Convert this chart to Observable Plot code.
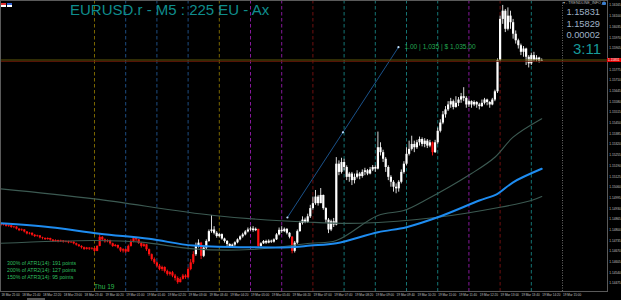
<!DOCTYPE html>
<html><head><meta charset="utf-8">
<script src="https://cdn.jsdelivr.net/npm/d3@7"></script>
<script src="https://cdn.jsdelivr.net/npm/@observablehq/plot@0.6"></script>
<style>
html,body{margin:0;padding:0;background:#000;}
#wrap{position:relative;width:621px;height:300px;overflow:hidden;background:#000;}
#wrap svg{display:block;}
.ov{position:absolute;white-space:nowrap;font-family:"Liberation Sans",Arial,sans-serif;line-height:1;}
</style></head><body><div id="wrap"></div>
<script>
// ---------- DATA ----------
const symbolTitle = "EURUSD.r - M5 : 225 EU - Ax";
const firstOpen = 1.14835;
const closeP = [
1.14828,1.14832,1.14822,1.14826,1.14815,1.14818,1.14805,1.14796,1.14800,1.14788,
1.14776,1.14780,1.14768,1.14760,1.14764,1.14752,1.14748,1.14742,1.14748,1.14738,
1.14730,1.14736,1.14728,1.14734,1.14726,1.14730,1.14722,1.14726,1.14716,1.14708,
1.14700,1.14692,1.14682,1.14690,1.14684,1.14688,1.14670,1.14700,1.14755,1.14740,
1.14728,1.14735,1.14716,1.14700,1.14706,1.14690,1.14672,1.14680,1.14666,1.14700,
1.14730,1.14748,1.14740,1.14718,1.14700,1.14710,1.14680,1.14650,1.14620,1.14600,
1.14580,1.14560,1.14572,1.14548,1.14530,1.14540,1.14520,1.14505,1.14480,1.14500,
1.14520,1.14510,1.14560,1.14600,1.14650,1.14700,1.14720,1.14640,1.14690,1.14730,
1.14790,1.14800,1.14780,1.14760,1.14772,1.14745,1.14730,1.14712,1.14700,1.14708,
1.14722,1.14740,1.14758,1.14770,1.14788,1.14800,1.14806,1.14796,1.14804,1.14700,
1.14716,1.14730,1.14720,1.14732,1.14726,1.14740,1.14770,1.14798,1.14790,1.14804,
1.14780,1.14756,1.14670,1.14720,1.14790,1.14840,1.14860,1.14846,1.14880,1.14930,
1.14960,1.15000,1.14960,1.15010,1.14930,1.14860,1.14800,1.14850,1.14830,1.15200,
1.15150,1.15210,1.15180,1.15120,1.15140,1.15100,1.15120,1.15140,1.15125,1.15150,
1.15160,1.15140,1.15165,1.15180,1.15170,1.15300,1.15270,1.15230,1.15180,1.15120,
1.15090,1.15060,1.15050,1.15090,1.15150,1.15200,1.15260,1.15290,1.15320,1.15300,
1.15330,1.15350,1.15320,1.15340,1.15310,1.15330,1.15270,1.15330,1.15400,1.15450,
1.15500,1.15530,1.15560,1.15580,1.15545,1.15570,1.15590,1.15610,1.15600,1.15560,
1.15580,1.15560,1.15575,1.15560,1.15550,1.15570,1.15590,1.15575,1.15560,1.15590,
1.15640,1.15830,1.16080,1.16130,1.16020,1.16100,1.16060,1.15990,1.15950,1.15920,
1.15880,1.15900,1.15850,1.15810,1.15860,1.15830,1.15845,1.15825,1.15831];
const highP = [
1.14840,1.14838,1.14834,1.14830,1.14828,1.14822,1.14820,1.14808,1.14806,1.14802,
1.14790,1.14784,1.14782,1.14772,1.14768,1.14766,1.14756,1.14752,1.14752,1.14750,
1.14742,1.14740,1.14738,1.14738,1.14736,1.14734,1.14732,1.14730,1.14728,1.14720,
1.14712,1.14704,1.14696,1.14694,1.14692,1.14692,1.14690,1.14704,1.14770,1.14760,
1.14745,1.14740,1.14738,1.14720,1.14712,1.14708,1.14694,1.14686,1.14684,1.14708,
1.14740,1.14758,1.14752,1.14742,1.14724,1.14716,1.14712,1.14684,1.14654,1.14630,
1.14606,1.14590,1.14580,1.14576,1.14556,1.14546,1.14548,1.14530,1.14515,1.14510,
1.14530,1.14528,1.14570,1.14620,1.14668,1.14720,1.14740,1.14725,1.14700,1.14740,
1.14800,1.14888,1.14820,1.14790,1.14780,1.14776,1.14750,1.14736,1.14716,1.14714,
1.14728,1.14746,1.14764,1.14780,1.14796,1.14812,1.14818,1.14820,1.14812,1.14804,
1.14722,1.14736,1.14738,1.14740,1.14738,1.14746,1.14778,1.14812,1.14820,1.14812,
1.14808,1.14784,1.14760,1.14730,1.14800,1.14852,1.14880,1.14872,1.14896,1.14950,
1.15000,1.15040,1.15010,1.15052,1.15012,1.14935,1.14870,1.14860,1.14870,1.15240,
1.15220,1.15236,1.15230,1.15190,1.15150,1.15150,1.15140,1.15160,1.15150,1.15165,
1.15175,1.15168,1.15180,1.15192,1.15190,1.15395,1.15330,1.15285,1.15240,1.15190,
1.15130,1.15100,1.15080,1.15100,1.15165,1.15215,1.15300,1.15340,1.15370,1.15340,
1.15345,1.15365,1.15360,1.15355,1.15350,1.15345,1.15335,1.15345,1.15420,1.15470,
1.15520,1.15550,1.15580,1.15600,1.15590,1.15610,1.15605,1.15630,1.15665,1.15610,
1.15590,1.15585,1.15585,1.15580,1.15570,1.15590,1.15600,1.15595,1.15580,1.15600,
1.15650,1.15840,1.16100,1.16165,1.16140,1.16150,1.16130,1.16080,1.16010,1.15960,
1.15930,1.15915,1.15905,1.15860,1.15875,1.15880,1.15860,1.15850,1.15840];
const lowP = [
1.14820,1.14824,1.14818,1.14816,1.14810,1.14808,1.14800,1.14790,1.14792,1.14782,
1.14770,1.14770,1.14762,1.14754,1.14756,1.14746,1.14740,1.14736,1.14738,1.14732,
1.14724,1.14726,1.14722,1.14724,1.14720,1.14722,1.14716,1.14718,1.14710,1.14702,
1.14694,1.14684,1.14676,1.14678,1.14676,1.14678,1.14664,1.14668,1.14698,1.14730,
1.14720,1.14722,1.14708,1.14694,1.14696,1.14684,1.14664,1.14660,1.14658,1.14664,
1.14696,1.14722,1.14730,1.14712,1.14690,1.14694,1.14670,1.14640,1.14610,1.14590,
1.14570,1.14552,1.14548,1.14538,1.14520,1.14520,1.14510,1.14490,1.14470,1.14478,
1.14496,1.14500,1.14505,1.14552,1.14590,1.14640,1.14690,1.14620,1.14632,1.14680,
1.14725,1.14780,1.14770,1.14750,1.14752,1.14738,1.14720,1.14700,1.14692,1.14694,
1.14700,1.14716,1.14734,1.14750,1.14764,1.14782,1.14792,1.14786,1.14790,1.14690,
1.14696,1.14712,1.14712,1.14716,1.14718,1.14720,1.14736,1.14764,1.14780,1.14784,
1.14770,1.14746,1.14655,1.14660,1.14712,1.14786,1.14830,1.14838,1.14840,1.14870,
1.14920,1.14950,1.14945,1.14960,1.14920,1.14840,1.14778,1.14790,1.14815,1.14825,
1.15130,1.15140,1.15160,1.15100,1.15090,1.15070,1.15080,1.15110,1.15105,1.15115,
1.15130,1.15130,1.15135,1.15155,1.15150,1.15165,1.15250,1.15210,1.15150,1.15100,
1.15060,1.15030,1.15020,1.15030,1.15080,1.15140,1.15190,1.15250,1.15280,1.15270,
1.15290,1.15310,1.15305,1.15300,1.15295,1.15300,1.15250,1.15265,1.15320,1.15390,
1.15440,1.15480,1.15520,1.15540,1.15530,1.15540,1.15550,1.15570,1.15580,1.15540,
1.15545,1.15540,1.15550,1.15540,1.15530,1.15545,1.15560,1.15555,1.15540,1.15555,
1.15580,1.15630,1.15820,1.16050,1.16000,1.16010,1.16020,1.15960,1.15930,1.15900,
1.15860,1.15850,1.15800,1.15785,1.15800,1.15820,1.15820,1.15815,1.15825];
// candles painted red by the trend colouring: all bars before bullStart, plus these
const bullStart = 75;
const redBars = [77, 99, 112, 166];

// moving averages (vertices)
const fastMaBars = [0,19,38,57,74,96,111,119,129,145,156,168,184,191,197,208];
const fastMaVals = [1.14841,1.14817,1.14777,1.14746,1.14705,1.14695,1.14695,1.14705,1.14719,1.14786,1.14817,1.14877,1.14979,1.15020,1.15090,1.15172];
const midMaBars = [0,36,54,74,96,119,129,145,155,163,181,190,197,208];
const midMaVals = [1.14719,1.14736,1.14726,1.14685,1.14681,1.14719,1.14736,1.14888,1.14918,1.14979,1.15143,1.15242,1.15364,1.15476];
const slowMaBars = [0,36,82,119,138,168,192,204,208];
const slowMaVals = [1.15050,1.14989,1.14888,1.14847,1.14841,1.14877,1.14938,1.14979,1.15003];

// trend line tool
const trendBars = [110.2, 152.9];
const trendPrices = [1.14876, 1.15911];
const trendLabel = "1.00 | 1,035 | $ 1,035.00";

// hourly separators
const sepBars = [36,48,60,72,84,96,108,120,132,144,156,168,180,192,204];
const sepKinds = ["olive","blue","blue","blue","olive","purple","purple","maroon","teal","teal","teal","teal","purple","maroon","teal"];
const nextSepBar = 216;

// price axis
const priceTicks = [1.16165,1.16100,1.16035,1.15970,1.15905,1.15840,1.15775,1.15710,1.15645,1.15580,1.15515,1.15450,1.15385,1.15320,1.15255,1.15190,1.15125,1.15060,1.14995,1.14930,1.14865,1.14800,1.14735,1.14670,1.14605,1.14540,1.14475];
const priceTop = 1.16195, priceBottom = 1.14426;
const viewFirstBar = -0.15, viewLastBar = 233.3;

// time axis
const timeTickBars = [0,8,16,24,32,40,48,56,64,72,80,88,96,104,112,120,128,136,144,152,160,168,176,184,192,200,208,216];
const timeTickLabels = ["18 Mar 21:00","18 Mar 21:40","18 Mar 22:20","18 Mar 23:00","18 Mar 23:40","19 Mar 00:20","19 Mar 01:00","19 Mar 01:40","19 Mar 02:20","19 Mar 03:00","19 Mar 03:40","19 Mar 04:20","19 Mar 05:00","19 Mar 05:40","19 Mar 06:20","19 Mar 07:00","19 Mar 07:40","19 Mar 08:20","19 Mar 09:00","19 Mar 09:40","19 Mar 10:20","19 Mar 11:00","19 Mar 11:40","19 Mar 12:20","19 Mar 13:00","19 Mar 13:40","19 Mar 14:20","19 Mar 15:00"];

// info panel
const askPrice = 1.15831, bidPrice = 1.15829, spreadText = "0.00002", timerText = "3:11";
const atrLines = ["300% of ATR1(14): 191 points","200% of ATR2(14): 127 points","150% of ATR3(14): 95 points"];
const dayLabel = "Thu 19";

// ---------- BUILD ----------
const bars = closeP.map((c, i) => ({
  i, open: i === 0 ? firstOpen : closeP[i - 1], close: c, high: highP[i], low: lowP[i],
  red: i < bullStart || redBars.includes(i)
}));
const redC = bars.filter(b => b.red), whiteC = bars.filter(b => !b.red);
const fastMa = fastMaBars.map((b, k) => ({i: b, p: fastMaVals[k]}));
const midMa = midMaBars.map((b, k) => ({i: b, p: midMaVals[k]}));
const slowMa = slowMaBars.map((b, k) => ({i: b, p: slowMaVals[k]}));
const trend = trendBars.map((b, k) => ({i: b, p: trendPrices[k]}));
const trendDots = [trend[0], {i: (trend[0].i + trend[1].i) / 2, p: (trend[0].p + trend[1].p) / 2}, trend[1]];
const seps = sepBars.map((b, k) => ({i: b, kind: sepKinds[k]}));
const sepPalette = {olive: "#7a6600", blue: "#1d4c80", purple: "#85189a", maroon: "#6e1010", teal: "#147474"};
const timeTicks = timeTickBars.map((b, k) => ({i: b, label: timeTickLabels[k]}));
// the tick hidden under the current-price label
const shownTicks = priceTicks.filter(t => Math.abs(t - askPrice) > 0.0002);

const chart = Plot.plot({
  width: 621, height: 300,
  marginLeft: 0, marginRight: 14, marginTop: 0, marginBottom: 9,
  style: {background: "#000", color: "#bbb", fontFamily: "Liberation Sans, Arial, sans-serif", overflow: "visible"},
  x: {domain: [viewFirstBar, viewLastBar], axis: null},
  y: {domain: [priceBottom, priceTop], axis: null},
  marks: [
    Plot.ruleX(seps, {x: "i", stroke: d => sepPalette[d.kind], strokeDasharray: "3.5,2.5", strokeWidth: 1}),
    Plot.ruleX([nextSepBar], {stroke: "#6a6a6a", strokeDasharray: "1,1.5", strokeWidth: 1}),
    // candles
    Plot.ruleX(redC, {x: "i", y1: "low", y2: "high", stroke: "#ee1010", strokeWidth: 1}),
    Plot.ruleX(redC, {x: "i", y1: "open", y2: "close", stroke: "#ff1010", strokeWidth: 2.2}),
    Plot.ruleX(whiteC, {x: "i", y1: "low", y2: "high", stroke: "#d8d8d8", strokeWidth: 1}),
    Plot.ruleX(whiteC, {x: "i", y1: "open", y2: "close", stroke: "#ffffff", strokeWidth: 2.2}),
    // moving averages
    Plot.line(slowMa, {x: "i", y: "p", stroke: "#3c5a52", strokeWidth: 1.1, curve: "catmull-rom"}),
    Plot.line(midMa, {x: "i", y: "p", stroke: "#3c5a52", strokeWidth: 1.1, curve: "catmull-rom"}),
    Plot.line(fastMa, {x: "i", y: "p", stroke: "#1e8cf0", strokeWidth: 2, curve: "catmull-rom"}),
    // trend line
    Plot.line(trend, {x: "i", y: "p", stroke: "#1d5a98", strokeWidth: 0.9}),
    Plot.dot(trendDots, {x: "i", y: "p", r: 1.1, fill: "#bfe0ff", stroke: "none"}),
    Plot.text([trend[1]], {x: "i", y: "p", text: () => trendLabel, textAnchor: "start", dx: 6, fontSize: 6.6, fill: "#22a851"}),
    // ask / bid lines
    Plot.ruleY([bidPrice], {stroke: "#6a1808", strokeWidth: 1, dy: 0.6}),
    Plot.ruleY([askPrice], {stroke: "#5c560a", strokeWidth: 1, dy: -0.4}),
    Plot.frame({stroke: "#5a5a5a", strokeWidth: 1}),
    // price axis
    Plot.text(shownTicks, {y: d => d, text: d => d.toFixed(5), frameAnchor: "right", textAnchor: "start", dx: 1.8, fontSize: 3.2, fill: "#c0c0c0"}),
    // time axis
    Plot.text(timeTicks, {x: "i", text: "label", frameAnchor: "bottom", textAnchor: "start", dy: 4, dx: 0.5, fontSize: 3.1, fill: "#c0c0c0"}),
  ]
});
const wrap = document.getElementById("wrap");
wrap.appendChild(chart);

function ov(text, css) {
  const d = document.createElement("div");
  d.className = "ov";
  d.textContent = text;
  Object.assign(d.style, css);
  wrap.appendChild(d);
  return d;
}
// title
ov(symbolTitle, {left: "70px", top: "2px", fontSize: "15px", color: "#0f8d8d"});
// small icons top-left
ov("", {left: "1px", top: "3px", width: "5px", height: "4px", background: "linear-gradient(#e03030 50%, #ffffff 50%)"});
ov("", {left: "7px", top: "3px", width: "5px", height: "4px", background: "linear-gradient(#3060d0 50%, #ffffff 50%)"});
// info panel
ov("\u25BE - TRENDLINE_INFO_1", {left: "563px", top: "2px", fontSize: "3.8px", color: "#b0b0b0"});
ov("", {left: "602px", top: "2px", width: "4px", height: "3px", background: "#3a7fd0", borderRadius: "1px"});
ov(askPrice.toFixed(5), {right: "21px", top: "7.8px", fontSize: "9.3px", color: "#9fb2c6"});
ov(bidPrice.toFixed(5), {right: "21px", top: "19.5px", fontSize: "9.3px", color: "#9fb2c6"});
ov(spreadText, {right: "21px", top: "30.5px", fontSize: "9.3px", color: "#9fb2c6"});
ov(timerText, {right: "20px", top: "40.7px", fontSize: "15px", color: "#179a9a"});
// red price label on axis
const yAsk = chart.scale("y").apply(askPrice);
ov(askPrice.toFixed(5), {left: "607px", top: (yAsk - 2) + "px", width: "13px", height: "4px", fontSize: "3.2px", lineHeight: "4px", color: "#fff", background: "#e00000", paddingLeft: "1px"});
// ATR lines & day label
atrLines.forEach((t, k) => ov(t, {left: "7px", top: (261.4 + k * 6.8) + "px", fontSize: "5.2px", color: "#2fbf5f"}));
ov(dayLabel, {left: "94px", top: "283.9px", fontSize: "6.6px", color: "#2db84d"});
// scrollbar thumb
ov("", {left: "27px", top: "298px", width: "18px", height: "2px", background: "#555"});
</script>
</body></html>
